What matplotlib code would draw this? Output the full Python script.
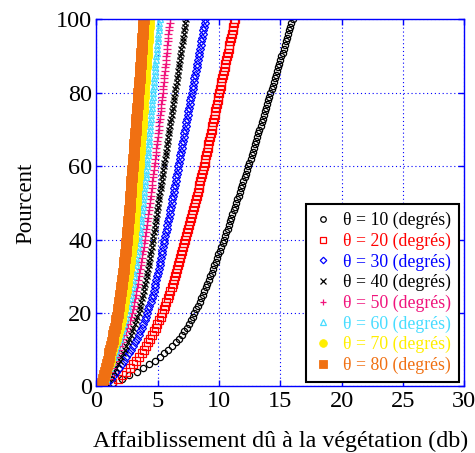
import matplotlib
matplotlib.use("Agg")
import matplotlib.pyplot as plt

plt.rcParams['font.family'] = ['Liberation Serif', 'DejaVu Serif']

percent = list(range(0, 101))

theta_labels = ["10", "20", "30", "40", "50", "60", "70", "80"]

att_10 = [0.60,1.35,2.05,2.68,3.28,3.82,4.31,4.78,5.18,5.54,
          5.88,6.18,6.46,6.72,6.96,7.18,7.38,7.56,7.72,7.86,
          8.00,8.14,8.28,8.42,8.55,8.68,8.81,8.94,9.06,9.18,
          9.30,9.41,9.52,9.63,9.74,9.85,9.96,10.07,10.18,10.29,
          10.40,10.50,10.60,10.70,10.80,10.90,11.00,11.10,11.20,11.30,
          11.40,11.50,11.60,11.70,11.80,11.90,12.00,12.10,12.20,12.30,
          12.40,12.49,12.58,12.67,12.76,12.85,12.94,13.03,13.12,13.21,
          13.30,13.39,13.48,13.57,13.66,13.75,13.84,13.93,14.02,14.11,
          14.20,14.29,14.38,14.47,14.56,14.65,14.74,14.83,14.92,15.01,
          15.10,15.19,15.28,15.37,15.46,15.55,15.64,15.73,15.82,15.91,
          16.00]

att_20 = [0.65,1.30,1.75,2.12,2.45,2.75,3.02,3.27,3.50,3.70,
          3.88,4.05,4.22,4.38,4.54,4.69,4.84,4.98,5.12,5.25,
          5.38,5.49,5.60,5.71,5.82,5.93,6.03,6.13,6.22,6.31,
          6.40,6.49,6.57,6.66,6.74,6.83,6.91,7.00,7.08,7.17,
          7.25,7.33,7.41,7.49,7.57,7.65,7.73,7.81,7.89,7.97,
          8.05,8.12,8.19,8.26,8.33,8.40,8.47,8.54,8.61,8.68,
          8.75,8.82,8.88,8.95,9.01,9.08,9.14,9.21,9.27,9.34,
          9.40,9.46,9.52,9.58,9.64,9.70,9.76,9.82,9.88,9.94,
          10.00,10.07,10.13,10.20,10.26,10.33,10.39,10.46,10.52,10.59,
          10.65,10.72,10.78,10.85,10.91,10.98,11.04,11.11,11.17,11.24,
          11.30]

att_30 = [0.60,0.90,1.15,1.40,1.62,1.85,2.05,2.25,2.45,2.63,
          2.80,2.98,3.15,3.30,3.45,3.59,3.72,3.84,3.95,4.05,
          4.15,4.24,4.33,4.42,4.51,4.60,4.67,4.74,4.82,4.89,
          4.96,5.02,5.08,5.15,5.21,5.27,5.33,5.38,5.44,5.49,
          5.55,5.61,5.67,5.73,5.79,5.85,5.91,5.97,6.03,6.08,
          6.14,6.19,6.25,6.30,6.35,6.41,6.46,6.52,6.57,6.63,
          6.68,6.74,6.79,6.85,6.90,6.96,7.01,7.07,7.12,7.18,
          7.23,7.29,7.34,7.40,7.45,7.51,7.56,7.62,7.67,7.73,
          7.78,7.84,7.89,7.95,8.00,8.06,8.11,8.17,8.22,8.28,
          8.33,8.39,8.44,8.50,8.55,8.61,8.66,8.72,8.77,8.83,
          8.88]

att_40 = [0.55,0.80,1.00,1.20,1.40,1.60,1.76,1.90,2.04,2.17,
          2.30,2.43,2.55,2.68,2.80,2.91,3.02,3.13,3.24,3.35,
          3.45,3.52,3.59,3.66,3.73,3.80,3.86,3.92,3.98,4.04,
          4.10,4.15,4.20,4.26,4.31,4.36,4.41,4.46,4.50,4.55,
          4.60,4.65,4.69,4.74,4.78,4.83,4.87,4.92,4.96,5.01,
          5.05,5.10,5.14,5.19,5.23,5.28,5.32,5.37,5.41,5.46,
          5.50,5.55,5.59,5.64,5.68,5.73,5.77,5.82,5.86,5.91,
          5.95,6.00,6.04,6.09,6.13,6.18,6.22,6.27,6.31,6.36,
          6.40,6.45,6.49,6.54,6.58,6.63,6.67,6.72,6.76,6.81,
          6.85,6.90,6.94,6.99,7.03,7.08,7.12,7.17,7.21,7.26,
          7.30]

att_50 = [0.50,0.68,0.84,0.99,1.13,1.26,1.39,1.51,1.63,1.74,
          1.85,1.96,2.07,2.18,2.29,2.40,2.50,2.60,2.70,2.80,
          2.90,2.97,3.03,3.09,3.15,3.21,3.26,3.31,3.36,3.41,
          3.45,3.50,3.55,3.60,3.65,3.70,3.75,3.80,3.85,3.90,
          3.95,3.99,4.03,4.07,4.11,4.15,4.19,4.23,4.27,4.31,
          4.35,4.39,4.42,4.46,4.50,4.54,4.57,4.61,4.65,4.68,
          4.72,4.76,4.79,4.83,4.86,4.90,4.93,4.97,5.00,5.04,
          5.07,5.10,5.14,5.17,5.20,5.24,5.27,5.30,5.34,5.37,
          5.40,5.43,5.46,5.49,5.52,5.55,5.58,5.61,5.64,5.67,
          5.70,5.73,5.76,5.79,5.82,5.85,5.88,5.91,5.94,5.97,
          6.00]

att_60 = [0.48,0.62,0.75,0.87,0.98,1.09,1.20,1.31,1.41,1.51,
          1.60,1.70,1.80,1.90,2.00,2.09,2.18,2.26,2.34,2.41,
          2.47,2.54,2.61,2.68,2.74,2.80,2.86,2.91,2.96,3.01,
          3.05,3.10,3.14,3.19,3.23,3.27,3.32,3.36,3.40,3.44,
          3.48,3.51,3.55,3.58,3.61,3.64,3.67,3.71,3.74,3.77,
          3.80,3.83,3.86,3.89,3.92,3.95,3.98,4.01,4.04,4.07,
          4.10,4.13,4.15,4.18,4.20,4.23,4.25,4.28,4.30,4.33,
          4.35,4.38,4.40,4.43,4.45,4.48,4.50,4.53,4.55,4.58,
          4.60,4.63,4.66,4.68,4.71,4.74,4.77,4.80,4.82,4.85,
          4.88,4.91,4.93,4.96,4.99,5.02,5.04,5.07,5.10,5.12,
          5.15]

att_70 = [0.45,0.57,0.68,0.78,0.88,0.98,1.07,1.15,1.23,1.31,
          1.38,1.47,1.56,1.65,1.74,1.82,1.90,1.98,2.05,2.11,
          2.17,2.22,2.27,2.32,2.37,2.42,2.47,2.52,2.56,2.61,
          2.65,2.69,2.73,2.77,2.81,2.85,2.89,2.93,2.96,3.00,
          3.03,3.06,3.08,3.11,3.13,3.16,3.18,3.21,3.23,3.26,
          3.28,3.30,3.33,3.35,3.38,3.40,3.42,3.45,3.47,3.50,
          3.52,3.54,3.56,3.59,3.61,3.63,3.65,3.67,3.70,3.72,
          3.74,3.76,3.78,3.80,3.82,3.85,3.87,3.89,3.91,3.93,
          3.95,3.97,3.99,4.02,4.04,4.06,4.08,4.10,4.13,4.15,
          4.17,4.19,4.22,4.24,4.26,4.29,4.31,4.33,4.35,4.38,
          4.40]

att_80 = [0.40,0.49,0.57,0.65,0.73,0.80,0.87,0.94,1.00,1.06,
          1.12,1.19,1.26,1.33,1.39,1.45,1.51,1.57,1.62,1.67,
          1.72,1.77,1.82,1.87,1.91,1.95,1.99,2.03,2.07,2.11,
          2.15,2.19,2.22,2.26,2.29,2.32,2.36,2.39,2.42,2.45,
          2.48,2.50,2.53,2.55,2.58,2.60,2.62,2.65,2.67,2.70,
          2.72,2.74,2.77,2.79,2.81,2.84,2.86,2.88,2.91,2.93,
          2.95,2.98,3.00,3.03,3.05,3.08,3.10,3.13,3.15,3.18,
          3.20,3.22,3.25,3.27,3.29,3.32,3.34,3.36,3.38,3.41,
          3.43,3.45,3.47,3.50,3.52,3.54,3.56,3.58,3.61,3.63,
          3.65,3.67,3.69,3.71,3.73,3.75,3.77,3.79,3.81,3.83,
          3.85]

series = [att_10, att_20, att_30, att_40, att_50, att_60, att_70, att_80]
colors = ['#000000', '#FF0000', '#0000FF', '#000000', '#F0147C', '#48DCFF', '#FFEE00', '#F07012']
markers = ['o', 's', 'D', 'x', '+', '^', 'o', 's']
msizes = [4.5, 5.3, 3.8, 4.3, 5.5, 4.3, 6.0, 6.5]
leg_sizes = [4.0, 4.5, 3.3, 4.0, 5.0, 4.0, 5.5, 6.0]
filled = [False, False, False, True, True, False, True, True]

fig = plt.figure(figsize=(4.75, 4.53), dpi=100)
ax = fig.add_axes([0.203, 0.147, 0.774, 0.81])

handles = []
for vals, c, m, s, f, lab in zip(series, colors, markers, msizes, filled, theta_labels):
    if m in ('x', '+'):
        kw = dict(color=c, markeredgewidth=0.9)
    elif f:
        kw = dict(markerfacecolor=c, markeredgecolor=c, markeredgewidth=0.6)
    else:
        kw = dict(markerfacecolor='none', markeredgecolor=c, markeredgewidth=0.9)
    h, = ax.plot(vals, percent, linestyle='none', marker=m, markersize=s,
                 label='\u03b8 = ' + lab + ' (degr\u00e9s)', **kw)
    handles.append(h)

ax.set_xlim(0, 30)
ax.set_ylim(0, 100)
ax.set_xticks([0, 5, 10, 15, 20, 25, 30])
ax.set_yticks([0, 20, 40, 60, 80, 100])
ax.grid(True, color='#0000FF', linestyle=(0, (1, 2.5)), linewidth=0.8)
for sp in ax.spines.values():
    sp.set_color('#0000FF')
    sp.set_linewidth(1.0)
ax.tick_params(direction='in', color='#0000FF', length=4, width=1,
               top=True, right=True, labelsize=17.5, labelcolor='black', pad=3)

ax.set_xlabel('Affaiblissement d\u00fb \u00e0 la v\u00e9g\u00e9tation (db)', fontsize=17.3, labelpad=14)
ax.set_ylabel('Pourcent', fontsize=16.5, labelpad=14)

leg = ax.legend(handles=handles, loc='lower right', bbox_to_anchor=(0.985, 0.012),
                borderaxespad=0, fontsize=12.8, frameon=True, fancybox=False,
                framealpha=1, edgecolor='black', handlelength=1.0,
                handletextpad=0.6, labelspacing=0.19, borderpad=0.45)
leg.get_frame().set_linewidth(1.5)
for h, s in zip(leg.legend_handles, leg_sizes):
    h.set_markersize(s)
for txt, c in zip(leg.get_texts(), colors):
    txt.set_color(c)

fig.savefig('out.png', dpi=100)
